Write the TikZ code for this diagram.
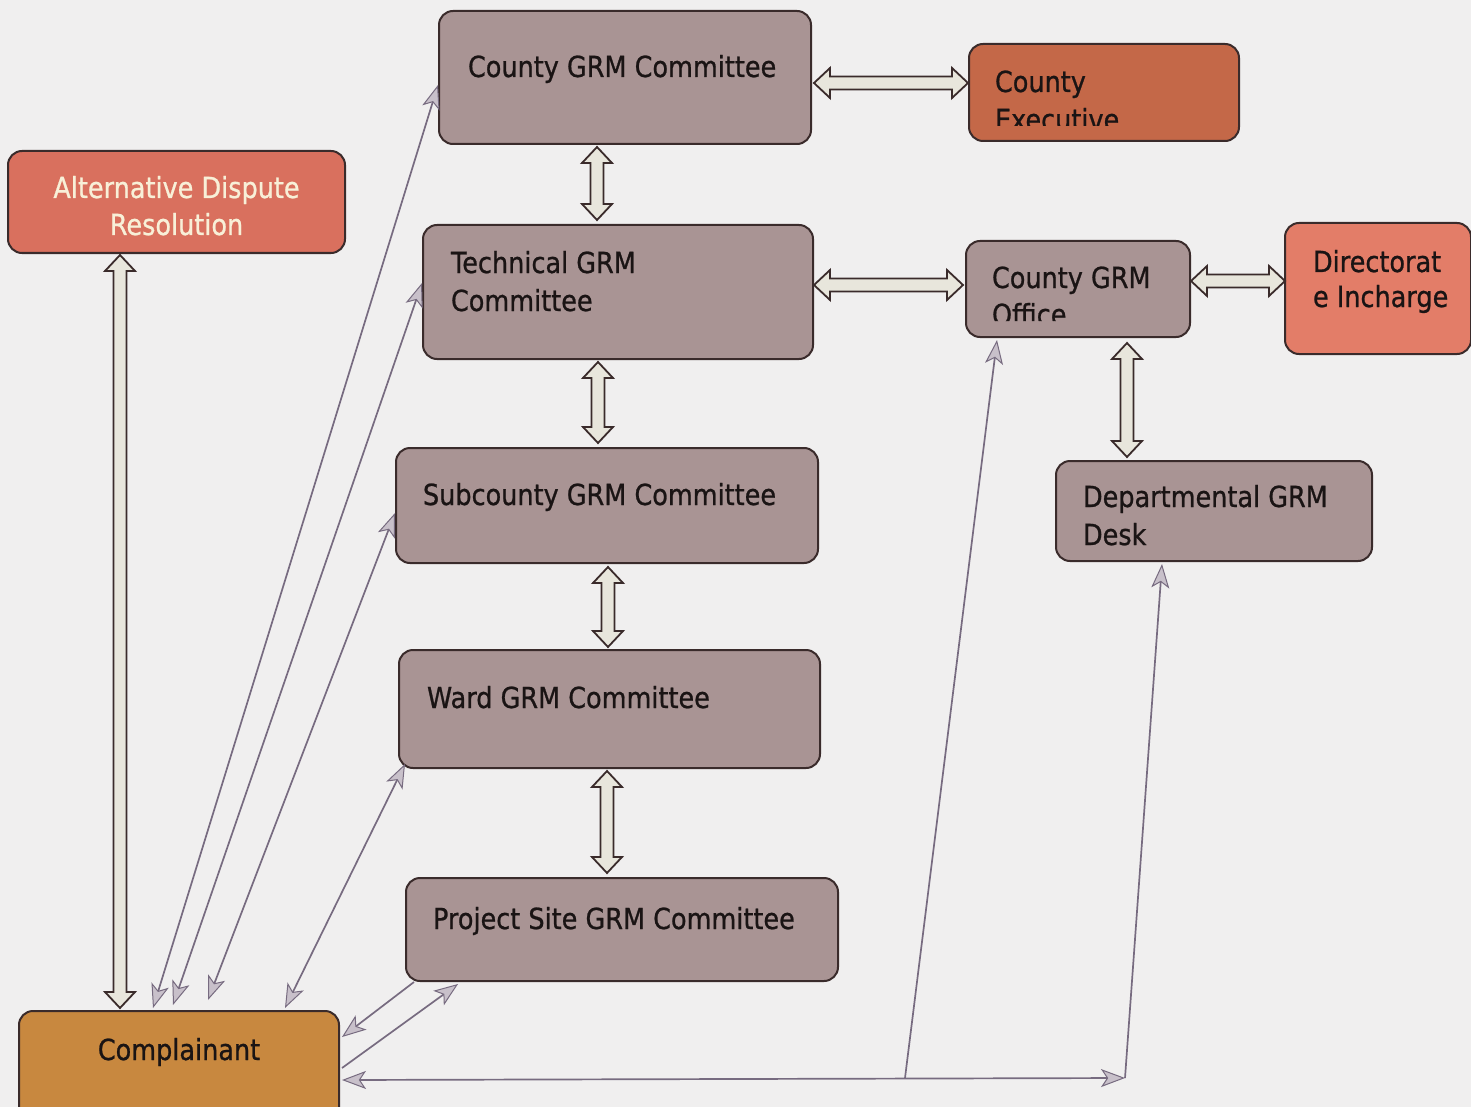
\documentclass[tikz,border=0pt]{standalone}
\usepackage{fontspec}
\setmainfont{DejaVu Sans}[FakeStretch=0.88,FakeBold=0.8]
\usetikzlibrary{calc,arrows.meta}
\definecolor{bgc}{HTML}{F0EFEF}
\definecolor{edgec}{HTML}{3A2B2B}
\definecolor{gfill}{HTML}{A99494}
\definecolor{exfill}{HTML}{C46848}
\definecolor{adrfill}{HTML}{D9705E}
\definecolor{dirfill}{HTML}{E37D68}
\definecolor{cmpfill}{HTML}{C8883F}
\definecolor{txtc}{HTML}{1A1414}
\definecolor{adrtxt}{HTML}{F8F0D8}
\definecolor{linec}{HTML}{776B80}
\definecolor{headc}{HTML}{C8C0CA}
\definecolor{fatfill}{HTML}{E8E6DC}
\newcommand\fatarrow[2]{%
  \path let \p1=(#1), \p2=(#2),
    \n1={veclen(\x2-\x1,\y2-\y1)}, \n2={atan2(\y2-\y1,\x2-\x1)} in
    \pgfextra{\xdef\FAlen{\n1}\xdef\FAang{\n2}\xdef\FAx{\x1}\xdef\FAy{\y1}};
  \begin{scope}[shift={(\FAx,\FAy)}, rotate=\FAang]
    \draw[fatarr] (0pt,0pt) -- (16pt,15pt) -- (16pt,6.5pt) -- ({\FAlen-16pt},6.5pt)
      -- ({\FAlen-16pt},15pt) -- ({\FAlen+0pt},0pt) -- ({\FAlen-16pt},-15pt)
      -- ({\FAlen-16pt},-6.5pt) -- (16pt,-6.5pt) -- (16pt,-15pt) -- cycle;
  \end{scope}}
\tikzset{
  box/.style={draw=edgec, line width=2pt, rounded corners=14pt, anchor=north west, inner sep=0pt},
  lbl/.style={anchor=base west, inner sep=0pt, minimum width=0pt, minimum height=0pt,
    draw=none, fill=none, text=txtc, font=\fontsize{29}{38}\selectfont},
  clbl/.style={lbl, anchor=base},
  fatarr/.style={draw=edgec, fill=fatfill, line width=1.8pt, line join=miter},
  conn/.style={draw=linec, line width=1.7pt},
  gtip/.tip={Stealth[length=24pt,width=18pt,inset=6pt,fill=headc,line width=1pt]},
}
\begin{document}
\begin{tikzpicture}[x=1pt,y=-1pt]
\useasboundingbox (0,0) rectangle (1471,1107);
\fill[bgc] (0,0) rectangle (1471,1107);

\node[box, fill=gfill, minimum width=372, minimum height=133,
  path picture={\node[lbl] (cgc-t) at ([shift={(28,66)}]path picture bounding box.north west) {County GRM Committee};}]
  (cgc) at (438,10) {};
\node[box, fill=exfill, minimum width=270, minimum height=97,
  path picture={\clip (path picture bounding box.north west) rectangle ([shift={(0,-15)}]path picture bounding box.south east);
    \node[lbl] (cex-t1) at ([shift={(25,48)}]path picture bounding box.north west) {County};
    \node[lbl] (cex-t2) at ([shift={(25,86)}]path picture bounding box.north west) {Executive};}]
  (cex) at (968,43) {};
\node[box, fill=adrfill, minimum width=337, minimum height=102,
  path picture={\node[clbl, text=adrtxt] (adr-t1) at ([shift={(0,47)}]path picture bounding box.north) {Alternative Dispute};
    \node[clbl, text=adrtxt] (adr-t2) at ([shift={(0,84)}]path picture bounding box.north) {Resolution};}]
  (adr) at (7,150) {};
\node[box, fill=gfill, minimum width=390, minimum height=134,
  path picture={\node[lbl] (tgc-t1) at ([shift={(27,48)}]path picture bounding box.north west) {Technical GRM};
    \node[lbl] (tgc-t2) at ([shift={(27,86)}]path picture bounding box.north west) {Committee};}]
  (tgc) at (422,224) {};
\node[box, fill=gfill, minimum width=224, minimum height=96,
  path picture={\clip (path picture bounding box.north west) rectangle ([shift={(0,-16)}]path picture bounding box.south east);
    \node[lbl] (cgo-t1) at ([shift={(25,47)}]path picture bounding box.north west) {County GRM};
    \node[lbl] (cgo-t2) at ([shift={(25,84)}]path picture bounding box.north west) {Office};}]
  (cgo) at (965,240) {};
\node[box, fill=dirfill, minimum width=186, minimum height=131,
  path picture={\node[lbl] (dir-t1) at ([shift={(27,49)}]path picture bounding box.north west) {Directorat};
    \node[lbl] (dir-t2) at ([shift={(27,84)}]path picture bounding box.north west) {e Incharge};}]
  (dir) at (1284,222) {};
\node[box, fill=gfill, minimum width=422, minimum height=115,
  path picture={\node[lbl] (sgc-t) at ([shift={(26,57)}]path picture bounding box.north west) {Subcounty GRM Committee};}]
  (sgc) at (395,447) {};
\node[box, fill=gfill, minimum width=316, minimum height=100,
  path picture={\node[lbl] (dgd-t1) at ([shift={(26,46)}]path picture bounding box.north west) {Departmental GRM};
    \node[lbl] (dgd-t2) at ([shift={(26,84)}]path picture bounding box.north west) {Desk};}]
  (dgd) at (1055,460) {};
\node[box, fill=gfill, minimum width=421, minimum height=118,
  path picture={\node[lbl] (wgc-t) at ([shift={(27,58)}]path picture bounding box.north west) {Ward GRM Committee};}]
  (wgc) at (398,649) {};
\node[box, fill=gfill, minimum width=432, minimum height=103,
  path picture={\node[lbl] (psc-t) at ([shift={(26,51)}]path picture bounding box.north west) {Project Site GRM Committee};}]
  (psc) at (405,877) {};
\node[box, fill=cmpfill, minimum width=320, minimum height=112,
  path picture={\node[clbl] (cmp-t) at ([shift={(0,49)}]path picture bounding box.north) {Complainant};}]
  (cmp) at (18,1010) {};

% fat double arrows
\fatarrow{$(cgc.north east)+(2,73)$}{$(cex.north west)+(0,40)$}
\fatarrow{$(cgc.south west)+(159,2)$}{$(tgc.north west)+(175,-4)$}
\fatarrow{$(tgc.north east)+(0,61)$}{$(cgo.north west)+(-2,45)$}
\fatarrow{$(tgc.south west)+(176,2)$}{$(sgc.north west)+(203,-4)$}
\fatarrow{$(sgc.south west)+(213,3)$}{$(wgc.north west)+(210,-2)$}
\fatarrow{$(wgc.south west)+(209,2)$}{$(psc.north west)+(202,-4)$}
\fatarrow{$(cgo.north east)+(0,41)$}{$(dir.north west)+(1,59)$}
\fatarrow{$(cgo.south west)+(162,5)$}{$(dgd.north west)+(72,-3)$}
\fatarrow{$(adr.south west)+(113,1)$}{$(cmp.north west)+(102,-2)$}

% thin connectors
\coordinate (j1) at (905,1078);
\coordinate (j2) at (1125,1078);
\draw[conn, gtip-gtip] ($(cmp.north west)+(135,-2)$) -- ($(cgc.north west)+(0,75)$);
\draw[conn, gtip-gtip] ($(cmp.north west)+(155,-5)$) -- ($(tgc.north west)+(0,59)$);
\draw[conn, gtip-gtip] ($(cmp.north west)+(190,-10)$) -- ($(sgc.north west)+(0,66)$);
\draw[conn, gtip-gtip] ($(cmp.north west)+(267,-2)$) -- ($(wgc.south west)+(7,-5)$);
\draw[conn, -gtip] ($(psc.south west)+(9,0)$) -- ($(cmp.north east)+(2,27)$);
\draw[conn, -gtip] ($(cmp.north east)+(2,58)$) -- ($(psc.south west)+(53,2)$);
\draw[conn, gtip-gtip] ($(cmp.north east)+(2,70)$) -- (j2);
\draw[conn, -gtip] (j1) -- ($(cgo.south west)+(32,2)$);
\draw[conn, -gtip] (j2) -- ($(dgd.south west)+(107,2)$);
\end{tikzpicture}
\end{document}
